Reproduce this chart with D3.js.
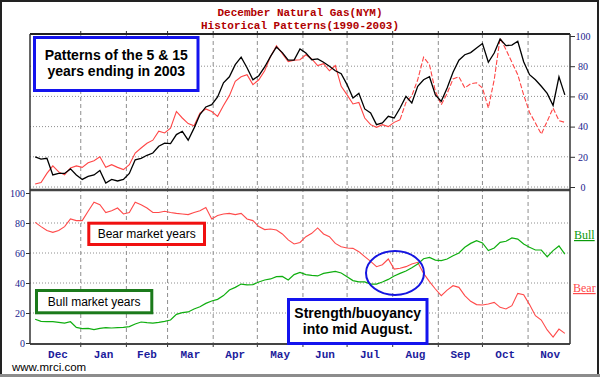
<!DOCTYPE html>
<html>
<head>
<meta charset="utf-8">
<script src="https://cdnjs.cloudflare.com/ajax/libs/d3/7.8.5/d3.min.js"></script>
<style>
    body { margin: 0; background: #fff; }
    svg { display: block; }
    .grid-h { stroke: #8e8e8e; stroke-width: 1; stroke-dasharray: 1,2; }
    .grid-v { stroke: #8e8e8e; stroke-width: 1; stroke-dasharray: 4,3; }
    .axis text { font-family: "Liberation Serif", serif; font-size: 10px; fill: #1a1a8c; }
    .axis line { stroke: #333; }
    .axis path { display: none; }
    .month { font-family: "Liberation Mono", monospace; font-weight: bold; font-size: 11px; fill: #1c1c9c; }
    .title { font-family: "Liberation Mono", monospace; font-weight: bold; font-size: 11px; fill: #b00000; }
    .note { font-family: "Liberation Sans", Arial, sans-serif; fill: #000; }
</style>
</head>
<body>
<div id="chart"></div>
<script>
// values, one point every 4 days starting Dec 1
const startDate = new Date(2002, 11, 1);
const stepDays = 4;
const monthNames = ["Dec", "Jan", "Feb", "Mar", "Apr", "May", "Jun", "Jul", "Aug", "Sep", "Oct", "Nov"];
const valueTicks = [0, 20, 40, 60, 80, 100];

// upper panel: 15 year pattern (black) and 5 year pattern (red)
const fifteenYear = [20, 18.5, 19, 8, 9, 9, 12, 8, 5, 7, 8, 11, 2.6, 5, 4, 5, 9, 18, 19, 21,
    22.5, 27, 29, 28.7, 34.7, 36.9, 31, 39, 48, 53, 54.5, 59.6, 69, 73, 81, 86, 79, 71, 73.7, 79.5,
    86.5, 92.7, 89, 84, 84, 91.4, 88.7, 84.3, 84.8, 82.6, 80, 77, 75, 67.8, 59, 62, 51.7, 49, 41.3, 42.4,
    46.8, 45.7, 52.3, 60, 55.6, 66.7, 71, 73, 61, 56.7, 65.6, 76, 84, 87.6, 89, 92, 95, 82.6, 88.7, 98,
    93.6, 94, 96.5, 83, 74.4, 71, 66.7, 62, 54, 73, 61];
const fiveYear = [2, 3, 9, 14, 10, 8, 12.6, 14, 13, 16, 17.4, 20, 13, 14.8, 13, 11.5, 14.8, 22.5, 25.8, 29,
    31, 37, 35.8, 39, 50, 45.7, 42, 40.6, 49, 51.7, 50, 46.8, 54, 60.5, 70, 73, 74.4, 67.8, 71, 77,
    86.5, 93.6, 88.3, 83, 84, 84.3, 87.6, 84.8, 80.4, 81.7, 77, 80.4, 66.7, 61, 55, 56, 45.7, 41.3, 39.5, 41.3,
    40, 42.8, 44.6, 56, 60.5, 71, 86, 81, 63.4, 54.5, 62, 71.5, 73, 65.6, 68.4, 69, 65.6, 52.3, 71, 98.7,
    91, 82.6, 74.4, 61, 49.4, 42.4, 35, 43.5, 52.3, 44, 42.8];

// lower panel: bear market years (red) and bull market years (green)
const bearYears = [80.4, 77.6, 75, 73.8, 75, 77.6, 82.7, 81.6, 81.6, 87.8, 93.8, 92.2, 87, 88.2, 90, 86, 87, 93.8, 92.2, 90,
    87, 87, 87.8, 87, 86.4, 86, 85.6, 87, 88.2, 90.4, 82.7, 85, 86, 86.4, 85.6, 86.4, 82.7, 81.6, 77.6, 75.6,
    76, 75.3, 72.7, 68.7, 66, 67, 70.9, 73.1, 76.7, 72.7, 70.9, 66.4, 64.2, 63.3, 63.1, 60.9, 57.6, 54.4, 50.9, 52.2,
    56, 49.3, 49.8, 50.9, 52.7, 53.8, 46.4, 40.9, 36, 31.6, 35.3, 38.2, 37.1, 31.6, 27.8, 25.6, 25.3, 26, 27.1, 23.8,
    22.7, 24.9, 33.1, 32.2, 25.6, 18.2, 15.3, 8.7, 4, 9.3, 6.4];
const bullYears = [15.8, 14.4, 14.2, 14.2, 13.8, 13.3, 14.2, 10.4, 9.6, 9.8, 8.9, 9.8, 10.2, 10, 10.2, 10.4, 10.9, 12.7, 14, 13.6,
    13.3, 13.8, 14.4, 15.3, 19.1, 20.2, 20.7, 22.7, 24.2, 26.4, 28, 29.1, 31.6, 35.3, 37.1, 39.3, 38.7, 38.9, 40.7, 42,
    42.7, 44.2, 44.4, 42, 45.6, 47.1, 45.6, 45.1, 44.7, 46.4, 47.1, 47.8, 46.7, 44.2, 41.6, 40.7, 40.7, 39.3, 39.3, 40.7,
    42.4, 44.7, 46.4, 48, 50.2, 52.7, 56.2, 57.1, 55.3, 54.9, 56, 58.2, 60, 63.8, 66.4, 68.2, 66.7, 61.6, 63.3, 67.1,
    67.8, 70, 69.3, 66, 63.8, 62, 62, 57.5, 61.6, 64.7, 59.3];

// canvas and panel edges
let width = 600, height = 377;
let plot = {left: 30, right: 570, top: 34, mid: 190, bottom: 344};

let svg = d3.select("#chart")
    .append("svg")
    .attr("width", width)
    .attr("height", height);

svg.append("rect").attr("width", width).attr("height", height).attr("fill", "#fff");

// scales
let x = d3.scaleTime()
    .domain([new Date(2002, 10, 27, 12), new Date(2003, 10, 29, 12)])
    .range([plot.left, plot.right]);
let yTop = d3.scaleLinear().domain([0, 100]).range([187, 36]);
let yBot = d3.scaleLinear().domain([0, 100]).range([343, 193]);

let dateAt = i => d3.timeDay.offset(startDate, i * stepDays);

// gridlines
let monthStarts = monthNames.map((m, k) => new Date(2002, 11 + k, 1));
let boundaries = monthStarts.slice(1);

svg.selectAll(".grid-v")
    .data(boundaries)
    .join("line")
    .attr("class", "grid-v")
    .attr("x1", d => x(d)).attr("x2", d => x(d))
    .attr("y1", plot.top).attr("y2", plot.bottom);

svg.selectAll(".grid-top")
    .data([0, 20, 40, 60, 80])
    .join("line")
    .attr("class", "grid-h grid-top")
    .attr("x1", plot.left).attr("x2", plot.right)
    .attr("y1", d => yTop(d)).attr("y2", d => yTop(d));

svg.selectAll(".grid-bot")
    .data([20, 40, 60, 80])
    .join("line")
    .attr("class", "grid-h grid-bot")
    .attr("x1", plot.left).attr("x2", plot.right)
    .attr("y1", d => yBot(d)).attr("y2", d => yBot(d));

// month ticks above the top edge and below the bottom edge
svg.selectAll(".mtick")
    .data(boundaries)
    .join("line")
    .attr("class", "mtick")
    .attr("x1", d => x(d)).attr("x2", d => x(d))
    .attr("y1", plot.top - 3).attr("y2", plot.top)
    .attr("stroke", "#333");
svg.selectAll(".mtick2")
    .data(boundaries)
    .join("line")
    .attr("class", "mtick2")
    .attr("x1", d => x(d)).attr("x2", d => x(d))
    .attr("y1", plot.bottom).attr("y2", plot.bottom + 3)
    .attr("stroke", "#333");

// value axes
let axisR = svg.append("g")
    .attr("class", "axis")
    .attr("transform", "translate(" + plot.right + ",0)")
    .call(d3.axisRight(yTop).tickValues(valueTicks).tickSize(5));
axisR.selectAll("text").attr("x", 13).style("text-anchor", "middle");

svg.append("g")
    .attr("class", "axis")
    .attr("transform", "translate(" + plot.left + ",0)")
    .call(d3.axisLeft(yBot).tickValues(valueTicks).tickSize(4).tickPadding(1));

// lines
let lineTop = d3.line().x((d, i) => x(dateAt(i))).y(d => yTop(d));
let lineBot = d3.line().x((d, i) => x(dateAt(i))).y(d => yBot(d));

svg.append("path")
    .attr("d", lineBot(bearYears))
    .attr("fill", "none").attr("stroke", "#ff4a4a").attr("stroke-width", 1.1);
svg.append("path")
    .attr("d", lineBot(bullYears))
    .attr("fill", "none").attr("stroke", "#0fae0f").attr("stroke-width", 1.2);

// red pattern turns dashed late in the year
let dashFrom = 62;
let redTop = d3.line().x(d => x(dateAt(d.i))).y(d => yTop(d.v));
let redPts = fiveYear.map((v, i) => ({i: i, v: v}));
svg.append("path")
    .attr("d", redTop(redPts.slice(0, dashFrom + 1)))
    .attr("fill", "none").attr("stroke", "#ff4545").attr("stroke-width", 1.1);
svg.append("path")
    .attr("d", redTop(redPts.slice(dashFrom)))
    .attr("fill", "none").attr("stroke", "#ff4545").attr("stroke-width", 1.1)
    .attr("stroke-dasharray", "5,2");

svg.append("path")
    .attr("d", lineTop(fifteenYear))
    .attr("fill", "none").attr("stroke", "#000").attr("stroke-width", 1.3);

// panel frame
let frame = svg.append("g");
frame.append("line").attr("x1", plot.left).attr("x2", plot.right).attr("y1", plot.top).attr("y2", plot.top)
    .attr("stroke", "#222").attr("stroke-width", 2);
frame.append("line").attr("x1", plot.left).attr("x2", plot.right).attr("y1", plot.mid).attr("y2", plot.mid)
    .attr("stroke", "#444").attr("stroke-width", 2.5);
frame.append("line").attr("x1", plot.left).attr("x2", plot.right).attr("y1", plot.bottom).attr("y2", plot.bottom)
    .attr("stroke", "#444").attr("stroke-width", 2);
frame.append("line").attr("x1", plot.left).attr("x2", plot.left).attr("y1", plot.top).attr("y2", plot.bottom)
    .attr("stroke", "#333").attr("stroke-width", 1.5);
frame.append("line").attr("x1", plot.right).attr("x2", plot.right).attr("y1", plot.top).attr("y2", plot.bottom)
    .attr("stroke", "#333").attr("stroke-width", 1.5);

// month labels centred in each month
svg.selectAll(".month")
    .data(monthStarts)
    .join("text")
    .attr("class", "month")
    .attr("x", d => (x(d) + x(d3.timeMonth.offset(d, 1))) / 2)
    .attr("y", 358)
    .attr("text-anchor", "middle")
    .text((d, k) => monthNames[k]);

// title
svg.append("text").attr("class", "title").attr("x", 300).attr("y", 16)
    .attr("text-anchor", "middle").text("December Natural Gas(NYM)");
svg.append("text").attr("class", "title").attr("x", 300).attr("y", 29)
    .attr("text-anchor", "middle").text("Historical Patterns(1990-2003)");

// annotation boxes
function noteBox(x0, y0, w, h, color, lines, size, bold, baselines) {
    svg.append("rect")
        .attr("x", x0).attr("y", y0).attr("width", w).attr("height", h)
        .attr("fill", "#fff").attr("stroke", color).attr("stroke-width", 3);
    lines.forEach((t, k) => {
        svg.append("text")
            .attr("class", "note")
            .attr("x", x0 + w / 2).attr("y", baselines[k])
            .attr("text-anchor", "middle")
            .style("font-size", size + "px")
            .style("font-weight", bold ? "bold" : "normal")
            .text(t);
    });
}

noteBox(34.5, 37.5, 163.5, 53, "#1414ee", ["Patterns of the 5 & 15", "years ending in 2003"], 14, true, [59.5, 76]);
noteBox(88.8, 223.2, 115.7, 21.3, "#f01010", ["Bear market years"], 12, false, [237.5]);
noteBox(36.5, 290.5, 115.3, 22.3, "#1b7a1b", ["Bull market years"], 12, false, [306]);
noteBox(288.5, 299.5, 138.5, 44, "#1414ee", ["Strength/buoyancy", "into mid August."], 14, true, [317.5, 333.5]);

// circle around the crossover
svg.append("ellipse")
    .attr("cx", 395).attr("cy", 273).attr("rx", 29).attr("ry", 22)
    .attr("fill", "none").attr("stroke", "#1515e0").attr("stroke-width", 2);

// series names on the right
svg.append("text").attr("x", 574).attr("y", 239)
    .style("font-family", "Liberation Serif, serif").style("font-size", "12px")
    .style("text-decoration", "underline").attr("fill", "#0a9a0a").text("Bull");
svg.append("text").attr("x", 573).attr("y", 292)
    .style("font-family", "Liberation Serif, serif").style("font-size", "12px")
    .style("text-decoration", "underline").attr("fill", "#ff4a4a").text("Bear");

// site credit
svg.append("text").attr("class", "note").attr("x", 12).attr("y", 371)
    .style("font-size", "11.5px").text("www.mrci.com");

// outer border
svg.append("rect").attr("x", 1).attr("y", 1).attr("width", 597).attr("height", 374)
    .attr("fill", "none").attr("stroke", "#222").attr("stroke-width", 2);
svg.append("line").attr("x1", 0).attr("x2", 600).attr("y1", 375.5).attr("y2", 375.5)
    .attr("stroke", "#8c8c8c").attr("stroke-width", 3);
</script>
</body>
</html>
